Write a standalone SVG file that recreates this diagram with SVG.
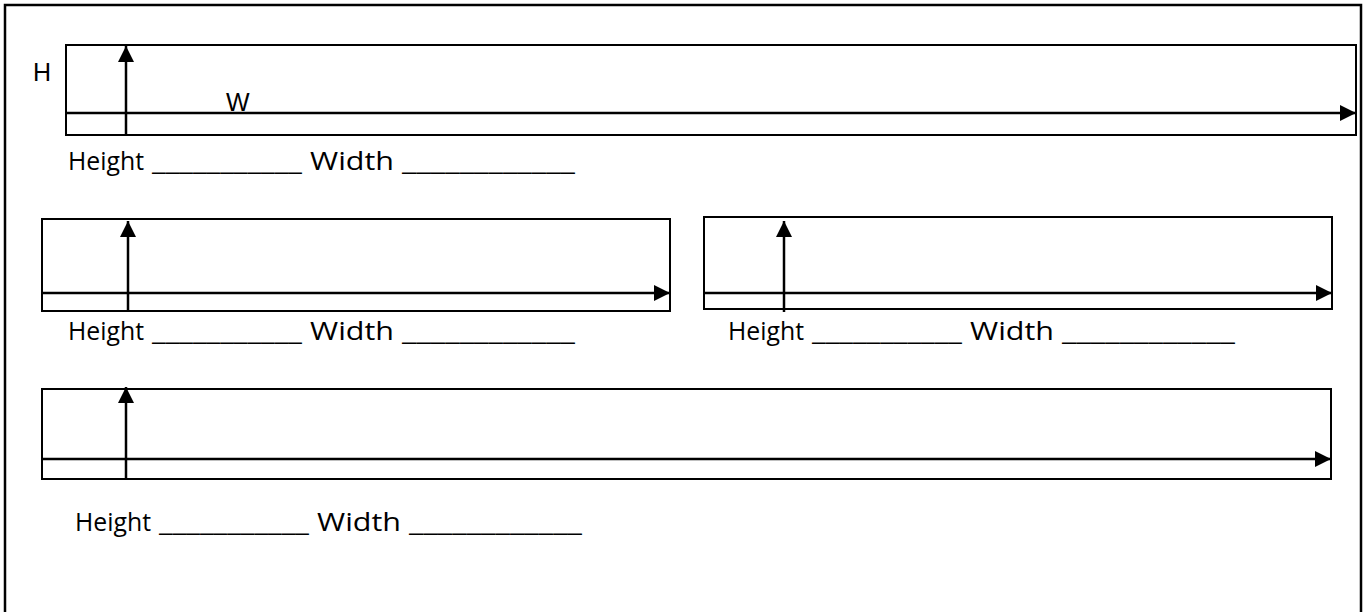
<svg xmlns="http://www.w3.org/2000/svg" width="1364" height="612" viewBox="0 0 1364 612">
<defs>
<marker id="ah" markerUnits="userSpaceOnUse" markerWidth="17" markerHeight="17" viewBox="0 0 17 17" refX="16" refY="8.5" orient="auto">
<path d="M0,0.5 L16,8.5 L0,16.5 z" fill="#000"/>
</marker>
<style>
.box{fill:#fff;stroke:#000;stroke-width:2}
.ax{stroke:#000;stroke-width:2.5;fill:none;marker-end:url(#ah)}
.lbl{font-family:"Open Sans","Noto Sans","Liberation Sans",sans-serif;font-size:25px;fill:#000}
.ar{font-family:"Liberation Sans",Arial,sans-serif;font-size:25px;fill:#000}
</style>
</defs>
<rect width="1364" height="612" fill="#fff"/>
<rect x="5" y="5" width="1356" height="620" fill="none" stroke="#000" stroke-width="2.5"/>
<g id="box1">
<rect class="box" x="66" y="45" width="1290" height="90"/>
</g>
<g id="box2">
<rect class="box" x="42" y="219" width="628" height="92"/>
</g>
<g id="box3">
<rect class="box" x="704" y="217" width="628" height="92"/>
</g>
<g id="box4">
<rect class="box" x="42" y="389" width="1289" height="90"/>
</g>
<g id="connectors">
<line class="ax" x1="66" y1="113" x2="1356" y2="113"/>
<line class="ax" x1="126" y1="136" x2="126" y2="46"/>
<line class="ax" x1="42" y1="293" x2="670" y2="293"/>
<line class="ax" x1="128" y1="311" x2="128" y2="221"/>
<line class="ax" x1="704" y1="293" x2="1332" y2="293"/>
<line class="ax" x1="784" y1="312" x2="784" y2="221"/>
<line class="ax" x1="42" y1="459" x2="1331" y2="459"/>
<line class="ax" x1="126" y1="479" x2="126" y2="387"/>
</g>
<g id="labels">
<text class="ar" x="33" y="81">H</text>
<text class="ar" x="226" y="111">W</text>
<text class="lbl" y="170"><tspan x="68" textLength="76" lengthAdjust="spacingAndGlyphs">Height</tspan> <tspan x="152" textLength="150" lengthAdjust="spacingAndGlyphs">___________</tspan> <tspan x="310" textLength="84" lengthAdjust="spacingAndGlyphs">Width</tspan> <tspan x="402" textLength="173" lengthAdjust="spacingAndGlyphs">____________</tspan></text>
<text class="lbl" y="340"><tspan x="68" textLength="76" lengthAdjust="spacingAndGlyphs">Height</tspan> <tspan x="152" textLength="150" lengthAdjust="spacingAndGlyphs">___________</tspan> <tspan x="310" textLength="84" lengthAdjust="spacingAndGlyphs">Width</tspan> <tspan x="402" textLength="173" lengthAdjust="spacingAndGlyphs">____________</tspan></text>
<text class="lbl" y="340"><tspan x="728" textLength="76" lengthAdjust="spacingAndGlyphs">Height</tspan> <tspan x="812" textLength="150" lengthAdjust="spacingAndGlyphs">___________</tspan> <tspan x="970" textLength="84" lengthAdjust="spacingAndGlyphs">Width</tspan> <tspan x="1062" textLength="173" lengthAdjust="spacingAndGlyphs">____________</tspan></text>
<text class="lbl" y="531"><tspan x="75" textLength="76" lengthAdjust="spacingAndGlyphs">Height</tspan> <tspan x="159" textLength="150" lengthAdjust="spacingAndGlyphs">___________</tspan> <tspan x="317" textLength="84" lengthAdjust="spacingAndGlyphs">Width</tspan> <tspan x="409" textLength="173" lengthAdjust="spacingAndGlyphs">____________</tspan></text>
</g>
</svg>
